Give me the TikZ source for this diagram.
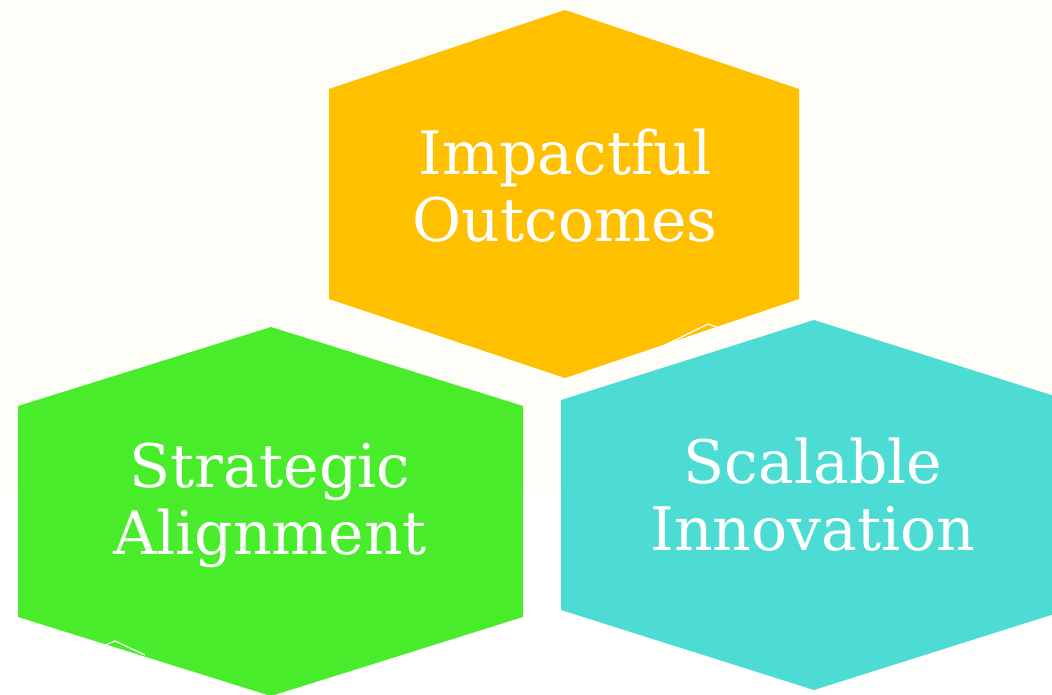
\documentclass[tikz,border=0pt]{standalone}
\usepackage{fontspec}
\setmainfont{DejaVu Serif}
\definecolor{paper}{HTML}{FEFDF8}
\definecolor{gold}{HTML}{FFC000}
\definecolor{lime}{HTML}{48EC2B}
\definecolor{aqua}{HTML}{4DDCD3}
\begin{document}
\begin{tikzpicture}[x=1pt, y=-1pt,
    hextext/.style={text=white, align=center, inner sep=0pt, font=\fontsize{60}{67}\selectfont}]
    \useasboundingbox (0,0) rectangle (1052,694) ;
    \clip (0,0) rectangle (1052,694) ;
    \fill [paper] (0,0) rectangle (1052,490) ;
    \fill [white] (0,490) rectangle (1052,694) ;

    \draw [white, line width=1.5] (114,7) -- (299,88) -- (299,298) -- (114,380) -- (-71,298) -- (-71,88) -- cycle ;

    \fill [gold] (565,10) -- (799,89) -- (799,299) -- (565,378) -- (329,299) -- (329,89) -- cycle ;
    \fill [lime] (271,327) -- (523,406) -- (523,617) -- (271,696) -- (18,617) -- (18,406) -- cycle ;
    \fill [aqua] (814,320) -- (1067,400) -- (1067,610) -- (814,690) -- (561,610) -- (561,400) -- cycle ;

    \draw [white, line width=1.2] (663,346) -- (708,324) -- (725,330) ;
    \draw [white, line width=1.2] (105,645) -- (115,641) -- (145,655) ;

    \node [hextext] (impact) at (565,186) {Impactful\\Outcomes} ;
    \node [hextext] (strategy) at (270,505) {Strategic\\Alignment} ;
    \node [hextext] (scale) at (813,495) {Scalable\\Innovation} ;
\end{tikzpicture}
\end{document}
